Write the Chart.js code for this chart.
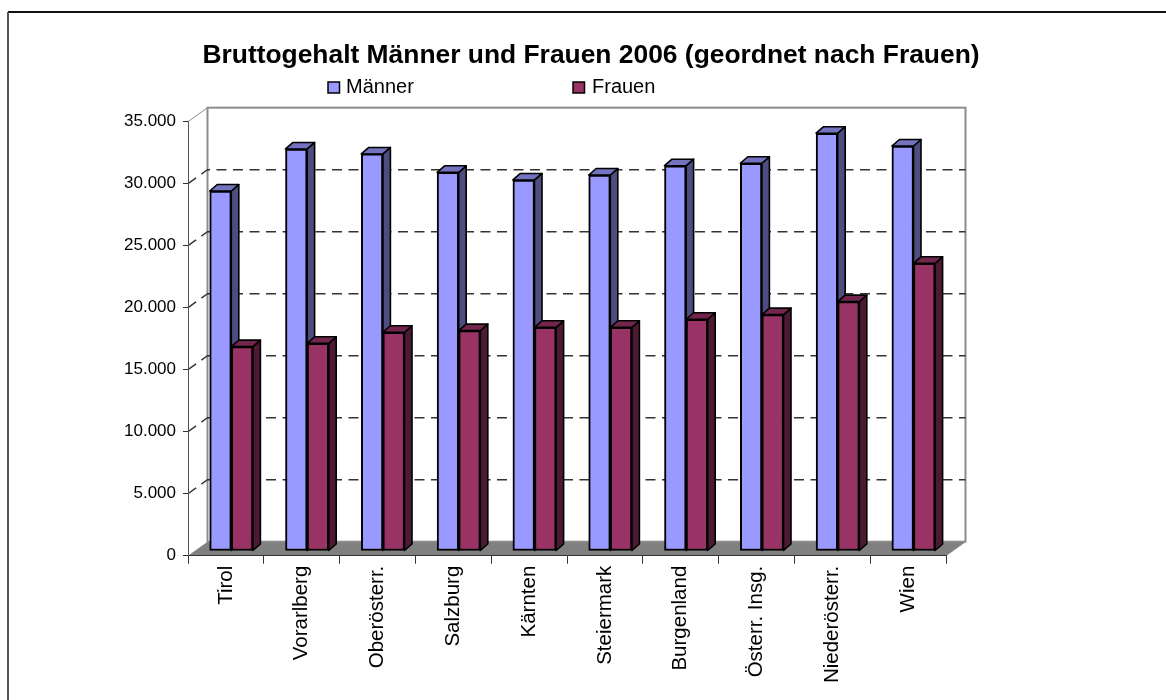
<!DOCTYPE html>
<html>
<head>
<meta charset="utf-8">
<title>Bruttogehalt</title>
<script src="https://cdn.jsdelivr.net/npm/chart.js@4/dist/chart.umd.min.js"></script>
<style>
  html, body { margin: 0; padding: 0; background: #fff; }
  #box { width: 1166px; height: 700px; }
</style>
</head>
<body>
<div id="box"><canvas id="chart" width="1166" height="700"></canvas></div>
<script>
const titleText = 'Bruttogehalt Männer und Frauen 2006 (geordnet nach Frauen)';
const categories = ['Tirol', 'Vorarlberg', 'Oberösterr.', 'Salzburg', 'Kärnten', 'Steiermark', 'Burgenland', 'Österr. Insg.', 'Niederösterr.', 'Wien'];
const maenner = [29030, 32420, 32020, 30540, 29920, 30320, 31070, 31270, 33690, 32660];
const frauen = [16480, 16750, 17640, 17770, 18040, 18040, 18690, 19060, 20110, 23200];
const tickValues = [0, 5000, 10000, 15000, 20000, 25000, 30000, 35000];

const fontName = '"Liberation Sans", Arial, sans-serif';
const wall = { dx: 19.5, dy: -14 };
const barShift = { dx: 5.4, dy: -4.7 };
const barDepth = { dx: 7.5, dy: -6.5 };

// white back wall, grey floor and the dashed lines, all from the value scale
const wallPlugin = {
    id: 'wall',
    beforeDraw(chart) {
        const { ctx, chartArea: a, scales } = chart;
        ctx.save();
        // frame of the original picture: only top and left are visible
        ctx.lineWidth = 2;
        ctx.beginPath();
        ctx.moveTo(1166, 12);
        ctx.lineTo(8, 12);
        ctx.strokeStyle = '#111';
        ctx.stroke();
        ctx.beginPath();
        ctx.moveTo(8, 12);
        ctx.lineTo(8, 700);
        ctx.strokeStyle = '#555';
        ctx.stroke();

        ctx.fillStyle = '#808080';
        ctx.beginPath();
        ctx.moveTo(a.left, a.bottom);
        ctx.lineTo(a.left + wall.dx, a.bottom + wall.dy);
        ctx.lineTo(a.right + wall.dx, a.bottom + wall.dy);
        ctx.lineTo(a.right, a.bottom);
        ctx.closePath();
        ctx.fill();

        ctx.strokeStyle = '#8c8c8c';
        ctx.lineWidth = 2;
        ctx.strokeRect(a.left + wall.dx, a.top + wall.dy, a.right - a.left, a.bottom - a.top);
        ctx.lineWidth = 1;
        ctx.beginPath();
        ctx.moveTo(a.left, a.top);
        ctx.lineTo(a.left + wall.dx, a.top + wall.dy);
        ctx.moveTo(a.right, a.bottom);
        ctx.lineTo(a.right + wall.dx, a.bottom + wall.dy);
        ctx.stroke();

        ctx.strokeStyle = '#333';
        ctx.lineWidth = 1.4;
        ctx.setLineDash([10, 6.5]);
        tickValues.slice(1, -1).forEach(v => {
            const y = scales.y.getPixelForValue(v);
            ctx.beginPath();
            ctx.moveTo(a.left, y);
            ctx.lineTo(a.left + wall.dx, y + wall.dy);
            ctx.lineTo(a.right + wall.dx, y + wall.dy);
            ctx.stroke();
        });
        ctx.restore();
    }
};

// turns the flat bars into boxes: sides and tops first (Männer under Frauen),
// then the library draws the fronts on the same shifted position
const boxPlugin = {
    id: 'boxes',
    beforeDatasetsDraw(chart) {
        const { ctx } = chart;
        ctx.save();
        ctx.translate(barShift.dx, barShift.dy);
        ctx.lineWidth = 1.6;
        ctx.strokeStyle = '#000';
        ctx.lineJoin = 'round';
        chart.data.datasets.forEach((ds, i) => {
            chart.getDatasetMeta(i).data.forEach(bar => {
                const p = bar.getProps(['x', 'y', 'base', 'width']);
                const l = p.x - p.width / 2;
                const r = p.x + p.width / 2;
                ctx.fillStyle = ds.sideColor;
                ctx.beginPath();
                ctx.moveTo(r, p.y);
                ctx.lineTo(r + barDepth.dx, p.y + barDepth.dy);
                ctx.lineTo(r + barDepth.dx, p.base + barDepth.dy);
                ctx.lineTo(r, p.base);
                ctx.closePath();
                ctx.fill();
                ctx.stroke();
                ctx.fillStyle = ds.topColor;
                ctx.beginPath();
                ctx.moveTo(l, p.y);
                ctx.lineTo(l + barDepth.dx, p.y + barDepth.dy);
                ctx.lineTo(r + barDepth.dx, p.y + barDepth.dy);
                ctx.lineTo(r, p.y);
                ctx.closePath();
                ctx.fill();
                ctx.stroke();
            });
        });
        ctx.restore();
    },
    beforeDatasetDraw(chart) {
        chart.ctx.save();
        chart.ctx.translate(barShift.dx, barShift.dy);
    },
    afterDatasetDraw(chart) {
        chart.ctx.restore();
    }
};

// legend of the original has a very wide gap, the built-in one can't do that without growing
const legendSlots = [{ box: 328, text: 346 }, { box: 573, text: 592 }];
const legendPlugin = {
    id: 'wideLegend',
    afterDraw(chart) {
        const { ctx } = chart;
        ctx.save();
        ctx.font = '20px ' + fontName;
        ctx.textBaseline = 'alphabetic';
        chart.data.datasets.forEach((ds, i) => {
            ctx.fillStyle = ds.backgroundColor;
            ctx.strokeStyle = '#000';
            ctx.lineWidth = 1.5;
            ctx.fillRect(legendSlots[i].box, 82, 11.5, 11);
            ctx.strokeRect(legendSlots[i].box, 82, 11.5, 11);
            ctx.fillStyle = '#000';
            ctx.fillText(ds.label, legendSlots[i].text, 93);
        });
        ctx.restore();
    }
};

new Chart(document.getElementById('chart'), {
    type: 'bar',
    data: {
        labels: categories,
        datasets: [
            { label: 'Männer', data: maenner, backgroundColor: '#9999ff', sideColor: '#4d4d80', topColor: '#7373bf', borderColor: '#000', borderWidth: 2, borderSkipped: false, clip: false },
            { label: 'Frauen', data: frauen, backgroundColor: '#993366', sideColor: '#4d1a33', topColor: '#73264d', borderColor: '#000', borderWidth: 2, borderSkipped: false, clip: false }
        ]
    },
    plugins: [wallPlugin, boxPlugin, legendPlugin],
    options: {
        responsive: false,
        animation: false,
        barThickness: 21.6,
        layout: { padding: { left: 16, right: 0, top: 0, bottom: 0 } },
        plugins: {
            legend: { display: false },
            tooltip: { enabled: false },
            title: {
                display: true,
                text: titleText,
                color: '#000',
                font: { family: fontName, size: 26.4, weight: 'bold' },
                padding: { top: 39.5, bottom: 50.5 }
            }
        },
        scales: {
            x: {
                grid: { drawOnChartArea: false, color: '#333', tickLength: 8, tickColor: '#333' },
                border: { color: '#333' },
                ticks: {
                    autoSkip: false, minRotation: 90, maxRotation: 90, padding: 2,
                    color: '#000',
                    font: { family: fontName, size: 20.5 }
                },
                afterFit(s) { s.height = 144.3; }
            },
            y: {
                min: 0,
                max: 35000,
                afterBuildTicks(s) { s.ticks = tickValues.map(v => ({ value: v })); },
                grid: { drawOnChartArea: false, color: '#333', tickLength: 5, tickColor: '#333' },
                border: { color: '#555' },
                ticks: {
                    padding: 7,
                    color: '#000',
                    font: { family: fontName, size: 17 },
                    callback: v => String(v).replace(/\B(?=(\d{3})+$)/g, '.')
                },
                afterFit(s) { s.width = 172; }
            },
            // empty axis, only keeps the plot away from the right side
            gap: {
                position: 'right',
                grid: { display: false },
                border: { display: false },
                ticks: { display: false },
                afterFit(s) { s.width = 220; }
            }
        }
    }
});
</script>
</body>
</html>
